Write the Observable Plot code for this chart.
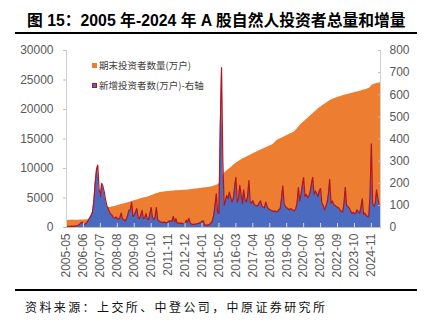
<!DOCTYPE html>
<html><head><meta charset="utf-8">
<script src="https://cdn.jsdelivr.net/npm/d3@7"></script>
<script src="https://cdn.jsdelivr.net/npm/@observablehq/plot@0.6"></script>
<style>
html,body{margin:0;padding:0;background:#fff;}
body{width:427px;height:323px;overflow:hidden;position:relative;font-family:"Noto Sans CJK SC",sans-serif;}
#title{position:absolute;left:27px;top:12px;white-space:nowrap;font-family:"Liberation Sans","Noto Sans CJK SC",sans-serif;font-weight:bold;font-size:15.8px;line-height:18px;color:#000;}
.rule{position:absolute;left:15px;width:402px;background:#000;}
#caption{position:absolute;left:25px;top:299px;white-space:nowrap;font-size:12px;line-height:15px;letter-spacing:2.4px;color:#111;}
#chart{position:absolute;left:0;top:36px;}
.leg{position:absolute;left:92px;font-size:9.5px;line-height:12px;color:#404040;white-space:nowrap;}
.leg i{display:inline-block;width:5px;height:5px;margin-right:2px;vertical-align:1px;box-sizing:border-box;}
</style>
</head><body>
<div id="title">图 15：2005 年-2024 年 A 股自然人投资者总量和增量</div>
<div class="rule" style="top:31.5px;height:2.5px"></div>
<div id="chart"></div>
<div class="leg" style="top:59px"><i style="background:#ED7D31"></i>期末投资者数量(万户)</div>
<div class="leg" style="top:79px"><i style="background:#4A6BC0;border:1px solid #B8151B"></i>新增投资者数(万户)-右轴</div>
<div class="rule" style="top:289px;height:2px"></div>
<div id="caption">资料来源：上交所、中登公司，中原证券研究所</div>
<script>
// Monthly series, 2005-05 onwards (万户)
const startMonth = "2005-05";
const totals = [
 1200,1200,1210,1210,1220,1220,1230,1230,1240,1240,
 1250,1260,1270,1280,1290,1300,1310,1330,1350,1380,
 1450,1600,1850,2150,2500,2700,2850,3000,3120,3200,
 3260,3300,3340,3370,3400,3460,3520,3580,3640,3700,
 3760,3820,3880,3940,4000,4060,4120,4180,4250,4320,
 4390,4460,4530,4600,4660,4720,4790,4860,4930,5000,
 5060,5100,5140,5220,5300,5380,5460,5540,5620,5700,
 5780,5860,5930,5960,5990,6020,6050,6080,6100,6120,
 6150,6165,6180,6195,6210,6225,6240,6255,6270,6285,
 6300,6315,6330,6350,6370,6390,6420,6450,6480,6510,
 6540,6570,6600,6630,6660,6690,6720,6750,6780,6800,
 6830,6880,6940,7000,7060,7120,7250,7400,7800,8300,
 8800,9100,9380,9560,9750,9920,10100,10300,10500,10680,
 10850,11000,11150,11300,11430,11560,11680,11800,11920,12020,
 12130,12240,12350,12460,12570,12680,12790,12900,13000,13100,
 13200,13300,13400,13500,13600,13700,13800,13900,14000,14150,
 14400,14600,14800,14900,15000,15110,15220,15330,15440,15550,
 15660,15770,15880,15990,16100,16250,16450,16700,16950,17200,
 17450,17650,17850,18050,18250,18450,18650,18850,19050,19250,
 19450,19650,19850,20050,20250,20400,20550,20700,20850,21000,
 21150,21300,21450,21600,21700,21790,21870,21950,22030,22100,
 22170,22240,22310,22380,22440,22500,22560,22620,22680,22740,
 22800,22860,22910,22960,23010,23070,23130,23200,23270,23340,
 23410,23480,23550,23700,24000,24150,24250,24320,24400,24450,
 24500,24550
];
const added = [
 5,5,4,5,6,5,6,6,8,10,
 14,20,24,16,14,18,25,35,45,55,
 70,120,200,260,282,175,140,200,185,160,
 125,100,85,70,60,55,45,42,48,40,
 38,45,65,40,36,30,38,55,78,80,
 114,50,55,70,86,45,40,55,77,40,
 42,63,38,35,60,90,45,36,45,90,
 35,30,25,24,22,25,22,20,25,30,
 28,30,50,26,40,20,20,18,20,18,
 16,18,32,25,41,20,15,14,14,15,
 16,18,20,22,28,30,12,10,11,12,
 15,20,30,55,100,152,70,63,450,723,
 300,100,120,145,130,160,137,115,130,180,
 227,114,130,190,150,108,170,125,115,140,
 212,114,110,122,105,100,98,100,112,120,
 95,92,90,115,95,85,80,78,75,72,
 75,70,72,80,85,130,188,110,95,90,
 85,80,85,82,78,75,85,110,180,120,
 150,190,226,140,150,135,140,160,197,227,
 150,165,155,140,165,176,110,100,80,95,
 110,150,218,110,120,105,100,95,92,88,
 80,72,70,110,182,100,95,88,75,65,
 68,62,65,80,72,65,90,130,60,65,
 55,50,48,150,378,110,95,110,170,130,
 100,100
];
const xTickLabels = ["2005-05","2006-06","2007-07","2008-08","2009-09","2010-10","2011-11","2012-12","2014-01","2015-02","2016-03","2017-04","2018-05","2019-06","2020-07","2021-08","2022-09","2023-10","2024-11"];
const leftTicks = [0,5000,10000,15000,20000,25000,30000];
const rightTicks = [0,100,200,300,400,500,600,700,800];

const N = Math.min(totals.length, added.length);
const fmt = d3.timeFormat("%Y-%m");
const start = d3.timeParse("%Y-%m")(startMonth);
const months = d3.range(N).map(i => fmt(d3.timeMonth.offset(start, i)));
const rows = d3.range(N).map(i => ({i, m: months[i], total: totals[i], added: added[i]}));
const tickIdx = xTickLabels.map(t => months.indexOf(t)).filter(i => i >= 0);
const leftMax = leftTicks[leftTicks.length-1], rightMax = rightTicks[rightTicks.length-1];
const k = leftMax / rightMax;

const chart = Plot.plot({
  width: 427, height: 252,
  marginTop: 14, marginBottom: 61, marginLeft: 66, marginRight: 47,
  style: {fontFamily: "'Liberation Sans Narrow','Liberation Sans',sans-serif", fontSize: "12px", color: "#595959", background: "transparent"},
  x: {type: "linear", domain: [0, N - 1], axis: null},
  y: {domain: [0, leftMax], axis: null},
  marks: [
    Plot.areaY(rows, {x: "i", y: "total", fill: "#ED7D31", curve: "linear"}),
    Plot.areaY(rows, {x: "i", y: d => d.added * k, fill: "#4A6BC0"}),
    Plot.lineY(rows, {x: "i", y: d => d.added * k, stroke: "#B8151B", strokeWidth: 1.2}),
    Plot.ruleY([0], {stroke: "#BFBFBF"}),
    Plot.ruleX([0, N - 1], {stroke: "#D0D0D0"}),
    Plot.axisY(leftTicks, {anchor: "left", tickSize: 3, tickPadding: 10, stroke: "#BFBFBF", tickFormat: d => String(d), label: null}),
    Plot.axisY(rightTicks, {anchor: "right", y: d => d * k, tickSize: -3, tickPadding: 12, stroke: "#BFBFBF", tickFormat: d => String(d), label: null}),
    Plot.axisX(tickIdx, {anchor: "bottom", tickSize: -4, tickPadding: 10, tickRotate: -90, stroke: "#D9D9D9", tickFormat: i => months[i], label: null})
  ]
});
document.getElementById("chart").appendChild(chart);
</script>
</body></html>
